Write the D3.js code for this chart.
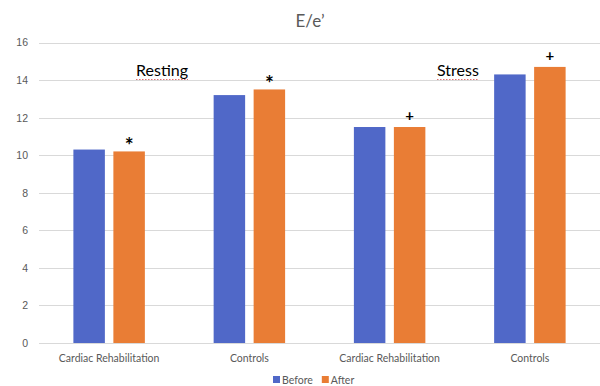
<!DOCTYPE html>
<html>
<head>
<meta charset="utf-8">
<script src="https://cdn.jsdelivr.net/npm/d3@7"></script>
<style>
  body { margin: 0; background: #fff; }
  svg { font-family: Lato, "Open Sans", sans-serif; }
  .grid line { stroke: #d9d9d9; stroke-width: 1; }
  .tick text { fill: #595959; font-size: 10.5px; }
  .catlabel { fill: #595959; font-size: 10.5px; text-anchor: middle; }
  .legend { fill: #595959; font-size: 10.5px; }
  .title { fill: #595959; font-size: 17px; text-anchor: middle; }
  .note { fill: #000; font-size: 16px; }
  .mark { fill: #000; font-weight: bold; text-anchor: middle; }
</style>
</head>
<body>
<svg id="chart" width="600" height="386"></svg>
<script>
const categories = ["Cardiac Rehabilitation", "Controls", "Cardiac Rehabilitation", "Controls"];
const series = ["Before", "After"];
const before = [10.3, 13.2, 11.5, 14.3];
const after = [10.2, 13.5, 11.5, 14.7];
const marks = ["*", "*", "+", "+"];
const yTicks = [0, 2, 4, 6, 8, 10, 12, 14, 16];
const colors = ["#5068C8", "#E97D35"];

let svg = d3.select("#chart");

svg.append("text").attr("class", "title").attr("x", 310).attr("y", 27).text("E/e\u2019");

let xScale = d3.scaleBand().domain(d3.range(categories.length)).range([39, 600]).paddingInner(0).paddingOuter(0);
let inner = d3.scaleBand().domain(series).range([0, xScale.bandwidth()]).paddingInner(0.2125).paddingOuter(0.86);
let yScale = d3.scaleLinear().domain([0, 16]).range([343, 42.5]);

// gridlines
let grid = svg.append("g").attr("class", "grid");
grid.selectAll("line").data(yTicks).enter().append("line")
    .attr("x1", 39).attr("x2", 600)
    .attr("y1", d => Math.round(yScale(d)) + 0.5).attr("y2", d => Math.round(yScale(d)) + 0.5);

let yAxis = d3.axisLeft(yScale).tickValues(yTicks).tickSize(0).tickPadding(11);
let y = svg.append("g").attr("transform", "translate(39,0)").call(yAxis);
y.select(".domain").remove();
y.selectAll(".tick text").attr("text-anchor", "end");

// bars
let rows = categories.map((c, i) => ({i: i, vals: [before[i], after[i]]}));
let groups = svg.append("g").selectAll("g").data(rows).enter().append("g")
    .attr("transform", d => "translate(" + xScale(d.i) + ",0)");
groups.selectAll("rect").data(d => d.vals.map((v, k) => ({k: k, v: v}))).enter().append("rect")
    .attr("x", d => inner(series[d.k]))
    .attr("width", inner.bandwidth())
    .attr("y", d => yScale(d.v))
    .attr("height", d => yScale(0) - yScale(d.v))
    .attr("fill", d => colors[d.k]);

// significance marks above "After" bars
groups.append("text").attr("class", "mark")
    .attr("x", inner("After") + inner.bandwidth() / 2)
    .attr("y", d => yScale(after[d.i]) + (marks[d.i] === "*" ? 2 : -6))
    .style("font-size", d => marks[d.i] === "*" ? "21px" : "15px")
    .text(d => marks[d.i]);

// category labels
svg.append("g").selectAll("text").data(categories).enter().append("text")
    .attr("class", "catlabel")
    .attr("x", (d, i) => xScale(i) + xScale.bandwidth() / 2)
    .attr("y", 362)
    .text(d => d);

// notes
let notes = [{t: "Resting", x: 136}, {t: "Stress", x: 437}];
notes.forEach(n => {
    let t = svg.append("text").attr("class", "note").attr("x", n.x).attr("y", 76).text(n.t);
    let w = t.node().getComputedTextLength();
    svg.append("line").attr("x1", n.x).attr("x2", n.x + w).attr("y1", 79.5).attr("y2", 79.5)
        .attr("stroke", "#e07070").attr("stroke-width", 1).attr("stroke-dasharray", "1.5,1.5");
});

// legend
let lx = 273;
series.forEach((s, k) => {
    svg.append("rect").attr("x", lx).attr("y", 376).attr("width", 7).attr("height", 7).attr("fill", colors[k]);
    let t = svg.append("text").attr("class", "legend").attr("x", lx + 9).attr("y", 383.5).text(s);
    lx += 9 + t.node().getComputedTextLength() + 9;
});
</script>
</body>
</html>
